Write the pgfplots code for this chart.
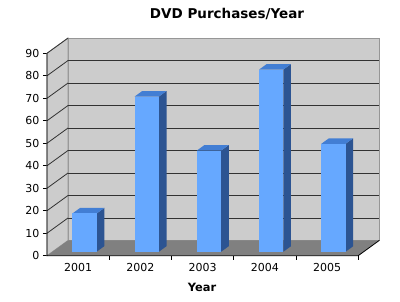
\documentclass[border=0pt]{standalone}
\usepackage{fontspec}
\setmainfont{DejaVu Sans}
\usepackage{pgfplots}
\usepackage{pgfplotstable}
\pgfplotsset{compat=1.18}
\definecolor{wall}{RGB}{204,204,204}
\definecolor{floorc}{RGB}{128,128,128}
\definecolor{barfront}{RGB}{102,168,255}
\definecolor{bartop}{RGB}{66,126,212}
\definecolor{barside}{RGB}{44,84,146}
\definecolor{edge}{RGB}{150,150,150}
\definecolor{grid}{RGB}{50,50,50}

\pgfplotstableread{
idx year v
1 2001 17
2 2002 69
3 2003 45
4 2004 81
5 2005 48
}\data

\def\DX{0.339}
\def\DY{6.8}
\def\tA{0.26}
\def\tB{0.62}
\def\hw{0.195}

\begin{document}
\begin{tikzpicture}[x=1pt,y=1pt]
\path[use as bounding box] (0,0) rectangle (400,302);
\begin{axis}[
  at={(47pt,46.3pt)}, anchor=south west,
  scale only axis, width=332.3pt, height=217.7pt,
  xmin=0.5, xmax=5.839, ymin=0, ymax=96.8,
  clip=false,
  axis line style={draw=none},
  tick pos=left,
  tick align=outside,
  ytick={0,10,...,90},
  xtick={1,2,3,4,5},
  xticklabels={2001,2002,2003,2004,2005},
  minor xtick={1.5,2.5,3.5,4.5,5.5},
  major x tick style={draw=none},
  minor x tick style={black, line width=0.8pt},
  y tick style={black, line width=0.8pt},
  major tick length=4pt,
  minor tick length=4pt,
  /pgf/number format/assume math mode=true,
  yticklabel style={font=\fontsize{11}{13}\selectfont},
  xticklabel style={font=\fontsize{11}{13}\selectfont},
]
% walls and floor
\addplot[fill=wall, draw=edge, line width=0.8pt, forget plot] coordinates {(0.839,6.8) (5.839,6.8) (5.839,96.8) (0.839,96.8)} --cycle;
\addplot[fill=wall, draw=edge, line width=0.8pt, forget plot] coordinates {(0.5,0) (0.839,6.8) (0.839,96.8) (0.5,90)} --cycle;
% grid lines
\pgfplotsinvokeforeach{16.8,26.8,36.8,46.8,56.8,66.8,76.8,86.8}{
  \draw[grid, line width=0.8pt] (axis cs:0.839,#1) -- (axis cs:5.839,#1);
}
\pgfplotsinvokeforeach{10,20,30,40,50,60,70,80,90}{
  \draw[grid, line width=0.8pt] (axis cs:0.5,#1) -- ++(axis direction cs:0.339,6.8);
}
\addplot[fill=floorc, draw=none, forget plot] coordinates {(0.5,0) (5.5,0) (5.839,6.8) (0.839,6.8)} --cycle;
% bars
\pgfplotsinvokeforeach{0,1,2,3,4}{
  \pgfplotstablegetelem{#1}{v}\of\data
  \let\val\pgfplotsretval
  \pgfmathsetmacro\xfl{#1+1+0.015-\hw+\tA*\DX}
  \pgfmathsetmacro\xfr{#1+1+0.015+\hw+\tA*\DX}
  \pgfmathsetmacro\xbl{#1+1+0.015-\hw+\tB*\DX}
  \pgfmathsetmacro\xbr{#1+1+0.015+\hw+\tB*\DX}
  \pgfmathsetmacro\yfb{\tA*\DY}
  \pgfmathsetmacro\ybb{\tB*\DY}
  \pgfmathsetmacro\yft{\val+\tA*\DY}
  \pgfmathsetmacro\ybt{\val+\tB*\DY}
  \addplot[fill=barside, draw=none, forget plot] coordinates {(\xfr,\yfb) (\xbr,\ybb) (\xbr,\ybt) (\xfr,\yft)} --cycle;
  \addplot[fill=bartop, draw=none, forget plot] coordinates {(\xfl,\yft) (\xfr,\yft) (\xbr,\ybt) (\xbl,\ybt)} --cycle;
  \addplot[fill=barfront, draw=none, forget plot] coordinates {(\xfl,\yfb) (\xfr,\yfb) (\xfr,\yft) (\xfl,\yft)} --cycle;
}
% front edges
\draw[black, line width=0.8pt] (axis cs:0.5,90) -- (axis cs:0.5,0) -- (axis cs:5.5,0) -- (axis cs:5.839,6.8);
\end{axis}
\node[anchor=base, font=\bfseries\fontsize{13.5}{16}\selectfont] at (227,283) {DVD Purchases/Year};
\node[anchor=base, font=\bfseries\fontsize{11.4}{14}\selectfont] at (202,10.3) {Year};
\end{tikzpicture}
\end{document}
